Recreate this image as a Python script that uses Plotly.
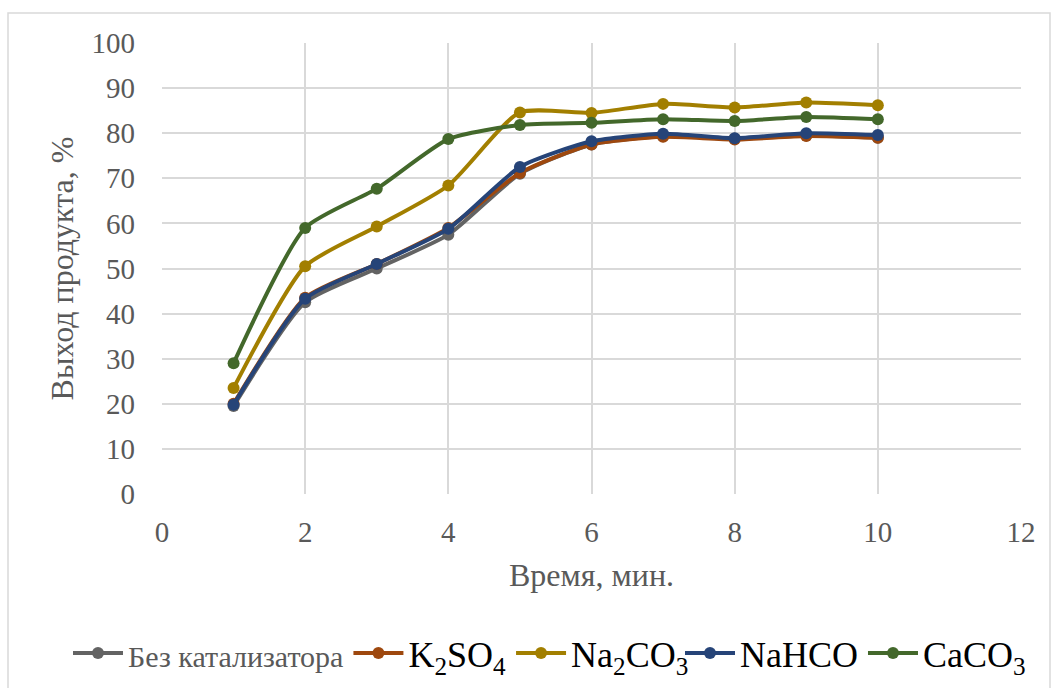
import plotly.graph_objects as go

x = [1, 2, 3, 4, 5, 6, 7, 8, 9, 10]
bez = [19.5, 42.5, 50.0, 57.5, 71.0, 77.5, 79.3, 78.8, 79.5, 79.0]
k2so4 = [20.0, 43.5, 51.0, 59.0, 71.2, 77.5, 79.2, 78.6, 79.4, 79.0]
na2co3 = [23.5, 50.5, 59.3, 68.4, 84.6, 84.5, 86.5, 85.7, 86.8, 86.2]
nahco = [19.8, 43.3, 51.0, 58.8, 72.5, 78.2, 79.9, 78.9, 80.0, 79.6]
caco3 = [29.0, 59.0, 67.7, 78.7, 81.8, 82.3, 83.1, 82.7, 83.6, 83.1]

names = [
    '<span style="font-size:30px;color:#595959">Без катализатора</span>',
    'K<sub>2</sub>SO<sub>4</sub>',
    'Na<sub>2</sub>CO<sub>3</sub>',
    'NaHCO',
    'CaCO<sub>3</sub>',
]
series = [bez, k2so4, na2co3, nahco, caco3]
colors = ['#636363', '#9E480E', '#A27F00', '#264478', '#43682B']
legends = ['legend', 'legend', 'legend', 'legend2', 'legend2']

fig = go.Figure()
for nm, ys, c, lg in zip(names, series, colors, legends):
    fig.add_trace(go.Scatter(
        x=x, y=ys, name=nm, mode='lines+markers', legend=lg,
        line=dict(color=c, width=4, shape='spline', smoothing=0.6),
        marker=dict(color=c, size=12),
    ))

font_family = 'Liberation Serif'
pw, ph = 859.0, 451.0
leg_common = dict(orientation='h', yanchor='middle', y=(494 - 653) / ph, xanchor='left',
                  font=dict(size=36, color='#000000', family=font_family),
                  itemwidth=50, tracegroupgap=0, traceorder='normal',
                  bgcolor='rgba(0,0,0,0)')
fig.update_layout(
    width=1055, height=688,
    margin=dict(l=162, r=34, t=43, b=194, autoexpand=False),
    paper_bgcolor='white', plot_bgcolor='white',
    font=dict(family=font_family, color='#595959', size=29),
    showlegend=True,
    legend=dict(x=(68 - 162) / pw, **leg_common),
    legend2=dict(x=(680 - 162) / pw, **leg_common),
    xaxis=dict(range=[0, 12], dtick=2, tick0=0, showgrid=True, gridcolor='#d9d9d9', gridwidth=1.5,
               zeroline=False, showline=False, ticks='', ticklabelstandoff=18,
               tickfont=dict(size=29, color='#595959'),
               title=dict(text='Время, мин.', font=dict(size=32, color='#595959'), standoff=16)),
    yaxis=dict(range=[0, 100], dtick=10, tick0=0, showgrid=True, gridcolor='#d9d9d9', gridwidth=1.5,
               zeroline=False, showline=False, ticks='', ticklabelstandoff=26,
               tickfont=dict(size=29, color='#595959'),
               title=dict(text='Выход продукта, %', font=dict(size=32, color='#595959'), standoff=8)),
)

fig.add_shape(type='rect', xref='paper', yref='paper',
              x0=(8 - 162) / pw, x1=(1050 - 162) / pw,
              y0=(494 - 700) / ph, y1=(494 - 13) / ph,
              line=dict(color='#d9d9d9', width=1.5), fillcolor='rgba(0,0,0,0)', layer='below')

fig.write_html('out.html')
